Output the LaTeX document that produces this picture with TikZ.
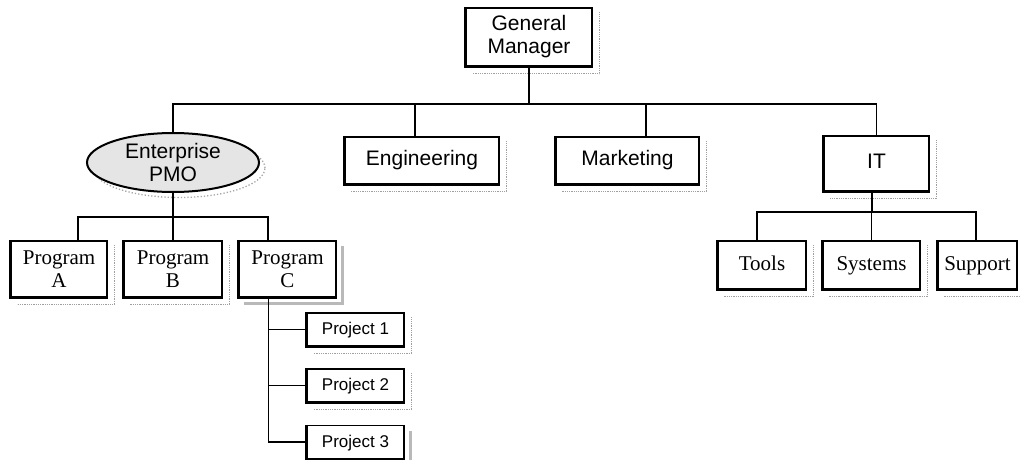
\documentclass[tikz,border=0pt]{standalone}
\usepackage{fontspec}
\setmainfont{Liberation Serif}
\setsansfont{Liberation Sans}
\usetikzlibrary{shapes.geometric}

\tikzset{
  box/.style={draw, line width=1.3pt, fill=white, inner sep=0pt, align=center},
  sanstext/.style={font=\sffamily\fontsize{21}{23}\selectfont},
  seriftext/.style={font=\rmfamily\fontsize{21}{23}\selectfont},
  projtext/.style={font=\sffamily\fontsize{17}{20}\selectfont},
  oneline/.style={text height=14pt, text depth=4pt},
  heavyedge/.style={line width=3pt},
  dotshadow/.style={draw=gray!75, line width=1.3pt, dash pattern=on 0.9pt off 0.9pt},
  solidshadow/.style={draw=gray!55, line width=2.6pt},
  link/.style={line width=1.5pt},
  pmolink/.style={line width=2.4pt},
}

% shadow to the lower right of a box, and the heavy left/bottom edge
\newcommand\dotshade[2][8]{%
  \draw[dotshadow] ([shift={(#1,#1-2)}]#2.north east) |- ([shift={(#1,#1)}]#2.south west);}
\newcommand\solidshade[2][6]{%
  \draw[solidshadow] ([shift={(#1,#1)}]#2.north east) |- ([shift={(#1,#1)}]#2.south west);}
\newcommand\heavyframe[1]{%
  \draw[heavyedge] (#1.north west) |- (#1.south east);}

\begin{document}
\begin{tikzpicture}[x=1pt, y=-1pt]
\useasboundingbox (0,0) rectangle (1020,460);

% ---- top level ----
\node[box, sanstext, minimum width=126, minimum height=58] (gm) at (529,37) {General\\Manager};

\node[ellipse, draw=gray!70, dotted, line width=1.3pt, minimum width=172, minimum height=59] (pmoshade) at (179,168) {};
\node[ellipse, draw, line width=2pt, fill=gray!20, minimum width=172, minimum height=59, inner sep=0pt, align=center, sanstext] (pmo) at (173,162.5) {Enterprise\\PMO};

\node[box, sanstext, oneline, minimum width=154, minimum height=47] (eng) at (422,160.5) {Engineering};
\node[box, sanstext, oneline, minimum width=143, minimum height=47] (mkt) at (627.5,160.5) {Marketing};
\node[box, sanstext, oneline, minimum width=105, minimum height=55] (it) at (876.5,163.5) {IT};

% ---- programs ----
\node[box, seriftext, minimum width=96, minimum height=56] (pa) at (59,269) {Program\\A};
\node[box, seriftext, minimum width=98, minimum height=56] (pb) at (173,269) {Program\\B};
\node[box, seriftext, minimum width=97, minimum height=56] (pc) at (287.5,269) {Program\\C};

% ---- projects ----
\node[box, projtext, oneline, minimum width=97, minimum height=33] (pr1) at (355.5,329.5) {Project 1};
\node[box, projtext, oneline, minimum width=97, minimum height=33] (pr2) at (355.5,385.5) {Project 2};
\node[box, projtext, oneline, minimum width=97, minimum height=33] (pr3) at (355.5,442) {Project 3};

% ---- IT groups ----
\node[box, seriftext, oneline, minimum width=88, minimum height=48] (tools) at (762,265) {Tools};
\node[box, seriftext, oneline, minimum width=97, minimum height=48] (sys) at (871.5,265) {Systems};
\node[box, seriftext, oneline, minimum width=79, minimum height=48] (sup) at (977.5,265) {Support};

% ---- shadows and heavy edges ----
\foreach \n in {gm, eng, mkt, it, pa, pb, tools, sys, sup, pr1, pr2} {\dotshade[7]{\n}}
\foreach \n in {pc, pr3} {\solidshade{\n}}
\foreach \n in {gm, eng, mkt, it, pa, pb, pc, tools, sys, sup, pr1, pr2, pr3} {\heavyframe{\n}}

% ---- bus junctions ----
\coordinate (topbus) at (529,104);
\coordinate (pmobus) at (173,217);
\coordinate (itbus) at (872,212);

% ---- connectors ----
\draw[link] (gm.south) -- (topbus);
\draw[pmolink] (pmo.north) |- (topbus);
\draw[link] ([xshift=-7]eng.north) |- (topbus);
\draw[link] ([xshift=18.5]mkt.north) |- (topbus);
\draw[link] (it.north) |- (topbus);

\draw[pmolink] (pmo.south) -- (pmobus);
\draw[link] ([xshift=19]pa.north) |- (pmobus);
\draw[pmolink] (pb.north) -- (pmobus);
\draw[link] ([xshift=-19.5]pc.north) |- (pmobus);

\draw[link] ([xshift=-4.5]it.south) -- (itbus);
\draw[pmolink] ([xshift=-5]tools.north) |- (itbus);
\draw[link] (sys.north) |- (itbus);
\draw[link] ([xshift=-1.5]sup.north) |- (itbus);

\draw[link] ([xshift=-19]pc.south) |- (pr3.west);
\draw[link] ([xshift=-19]pc.south) |- (pr1.west);
\draw[link] ([xshift=-19]pc.south) |- (pr2.west);
\end{tikzpicture}
\end{document}
